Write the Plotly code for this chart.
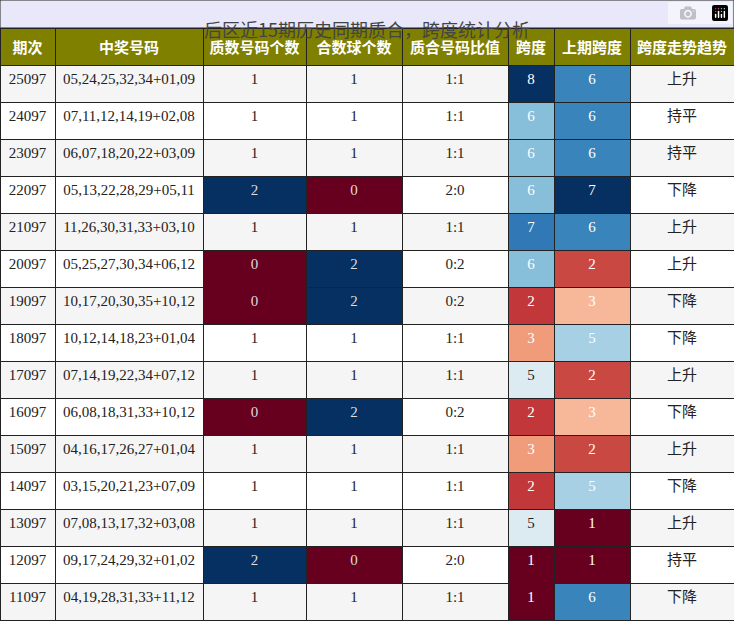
import plotly.graph_objects as go
from plotly.colors import sample_colorscale

periods = ["25097","24097","23097","22097","21097","20097","19097","18097","17097","16097","15097","14097","13097","12097","11097"]
numbers = ["05,24,25,32,34+01,09","07,11,12,14,19+02,08","06,07,18,20,22+03,09","05,13,22,28,29+05,11",
           "11,26,30,31,33+03,10","05,25,27,30,34+06,12","10,17,20,30,35+10,12","10,12,14,18,23+01,04",
           "07,14,19,22,34+07,12","06,08,18,31,33+10,12","04,16,17,26,27+01,04","03,15,20,21,23+07,09",
           "07,08,13,17,32+03,08","09,17,24,29,32+01,02","04,19,28,31,33+11,12"]
prime_cnt = [1,1,1,2,1,0,0,1,1,0,1,1,1,2,1]
comp_cnt = [1,1,1,0,1,2,2,1,1,2,1,1,1,0,1]
ratio = ["1:1","1:1","1:1","2:0","1:1","0:2","0:2","1:1","1:1","0:2","1:1","1:1","1:1","2:0","1:1"]
span = [8,6,6,6,7,6,2,3,5,2,3,2,5,1,1]
prev_span = [6,6,6,7,6,2,3,5,2,3,2,5,1,1,6]
trend = ["上升","持平","持平","下降","上升","上升","下降","下降","上升","下降","上升","下降","上升","持平","下降"]
headers = ["<b>期次</b>","<b>中奖号码</b>","<b>质数号码个数</b>","<b>合数球个数</b>","<b>质合号码比值</b>","<b>跨度</b>","<b>上期跨度</b>","<b>跨度走势趋势</b>"]

n = len(periods)
zebra = ["#f5f5f5" if i % 2 == 0 else "#ffffff" for i in range(n)]

def scale(vals, lo, hi):
    return [sample_colorscale("RdBu", [(v - lo) / (hi - lo)])[0] for v in vals]

def lum(c):
    c = c.replace("rgb(", "").replace(")", "").split(",")
    r, g, b = [float(x) for x in c]
    return 0.299*r + 0.587*g + 0.114*b

def cnt_fill(vals):
    return [("#053061" if v == 2 else "#67001f") if v != 1 else z for v, z in zip(vals, zebra)]

span_f = scale(span, 1, 8)
prev_f = scale(prev_span, 1, 7)
fills = [zebra, zebra, cnt_fill(prime_cnt), cnt_fill(comp_cnt), zebra, span_f, prev_f, zebra]
dark = "#222222"
def tc(fill_list):
    out = []
    for f in fill_list:
        if f.startswith("rgb"):
            out.append("white" if lum(f) < 200 else dark)
        elif f in ("#053061", "#67001f"):
            out.append("#dddddd")
        else:
            out.append(dark)
    return out
fcolors = [tc(f) for f in fills]

fig = go.Figure(go.Table(
    columnwidth=[55, 148, 103, 96, 106, 46, 76, 104],
    header=dict(values=headers, fill_color="#808000", height=37,
                font=dict(color="white", size=15, family="Noto Sans CJK SC"),
                line=dict(color="#222", width=1), align="center"),
    cells=dict(values=[periods, numbers, prime_cnt, comp_cnt, ratio, span, prev_span, trend],
               fill_color=fills, height=37,
               font=dict(color=fcolors, size=15, family=["Liberation Serif"]*7 + ["Noto Sans CJK SC"]),
               line=dict(color="#222", width=1), align="center"),
    domain=dict(x=[0, 1], y=[0, 1 - 28/621]),
))
fig.add_shape(type="rect", xref="paper", yref="paper", x0=0, x1=1, y0=1-28/621, y1=1,
              fillcolor="#e8e8fa", line=dict(color="#222", width=1))
fig.add_annotation(text="后区近15期历史同期质合，跨度统计分析", xref="paper", yref="paper",
                   x=0.5, y=1-14/621, showarrow=False,
                   font=dict(size=18, color="#444", family="Noto Sans CJK SC"))
fig.update_layout(width=734, height=621, margin=dict(l=0, r=0, t=0, b=0),
                  paper_bgcolor="white")
fig.write_html("out.html", post_script="document.body.style.margin='0';document.body.style.overflow='hidden';")
